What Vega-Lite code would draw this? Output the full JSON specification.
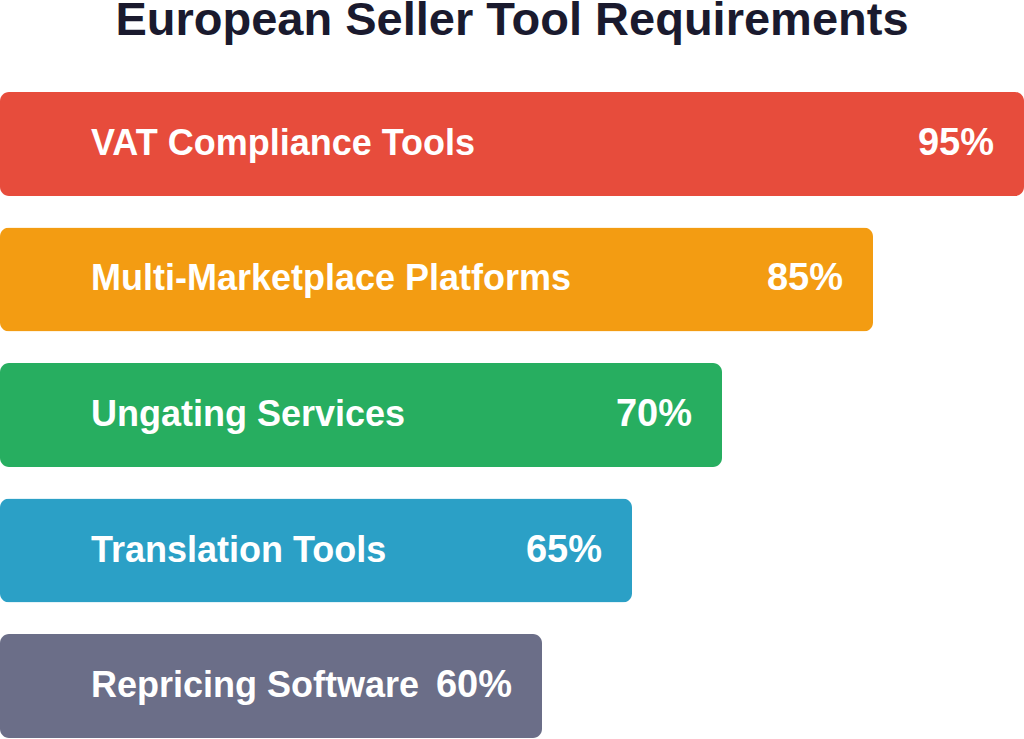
{
  "$schema": "https://vega.github.io/schema/vega-lite/v6.json",
  "width": 1024,
  "height": 646,
  "autosize": {"type": "none"},
  "padding": {"top": 92, "left": 0, "right": 0, "bottom": 1},
  "background": "white",
  "config": {"view": {"stroke": null}},
  "title": {
    "text": "European Seller Tool Requirements",
    "fontSize": 47,
    "font": "Liberation Sans",
    "fontWeight": "bold",
    "color": "#1a1a2e",
    "anchor": "middle",
    "offset": 47
  },
  "data": {
    "values": [
      {"tool": "VAT Compliance Tools", "pct": 95, "label": "95%"},
      {"tool": "Multi-Marketplace Platforms", "pct": 85, "label": "85%"},
      {"tool": "Ungating Services", "pct": 70, "label": "70%"},
      {"tool": "Translation Tools", "pct": 65, "label": "65%"},
      {"tool": "Repricing Software", "pct": 60, "label": "60%"}
    ]
  },
  "encoding": {
    "y": {
      "field": "tool",
      "type": "nominal",
      "sort": null,
      "scale": {"paddingInner": 0.2325, "paddingOuter": 0},
      "axis": null
    }
  },
  "layer": [
    {
      "mark": {"type": "bar", "cornerRadius": 9},
      "encoding": {
        "x": {
          "field": "pct",
          "type": "quantitative",
          "scale": {"domain": [0, 60, 65, 70, 85, 95], "range": [0, 542, 632, 722, 873, 1024], "nice": false, "zero": false},
          "axis": null
        },
        "color": {
          "field": "tool",
          "type": "nominal",
          "sort": null,
          "scale": {
            "domain": ["VAT Compliance Tools", "Multi-Marketplace Platforms", "Ungating Services", "Translation Tools", "Repricing Software"],
            "range": ["#e74c3c", "#f39c12", "#27ae60", "#2ba0c6", "#6b6e88"]
          },
          "legend": null
        }
      }
    },
    {
      "mark": {"type": "text", "align": "left", "dx": 91, "baseline": "middle", "color": "white", "fontSize": 36, "fontWeight": "bold", "font": "Liberation Sans"},
      "encoding": {
        "x": {"datum": 0, "type": "quantitative", "scale": {"domain": [0, 60, 65, 70, 85, 95], "range": [0, 542, 632, 722, 873, 1024], "nice": false, "zero": false}},
        "text": {"field": "tool"}
      }
    },
    {
      "mark": {"type": "text", "align": "right", "dx": -30, "baseline": "middle", "color": "white", "fontSize": 38, "fontWeight": "bold", "font": "Liberation Sans"},
      "encoding": {
        "x": {"field": "pct", "type": "quantitative", "scale": {"domain": [0, 60, 65, 70, 85, 95], "range": [0, 542, 632, 722, 873, 1024], "nice": false, "zero": false}},
        "text": {"field": "label"}
      }
    }
  ]
}
